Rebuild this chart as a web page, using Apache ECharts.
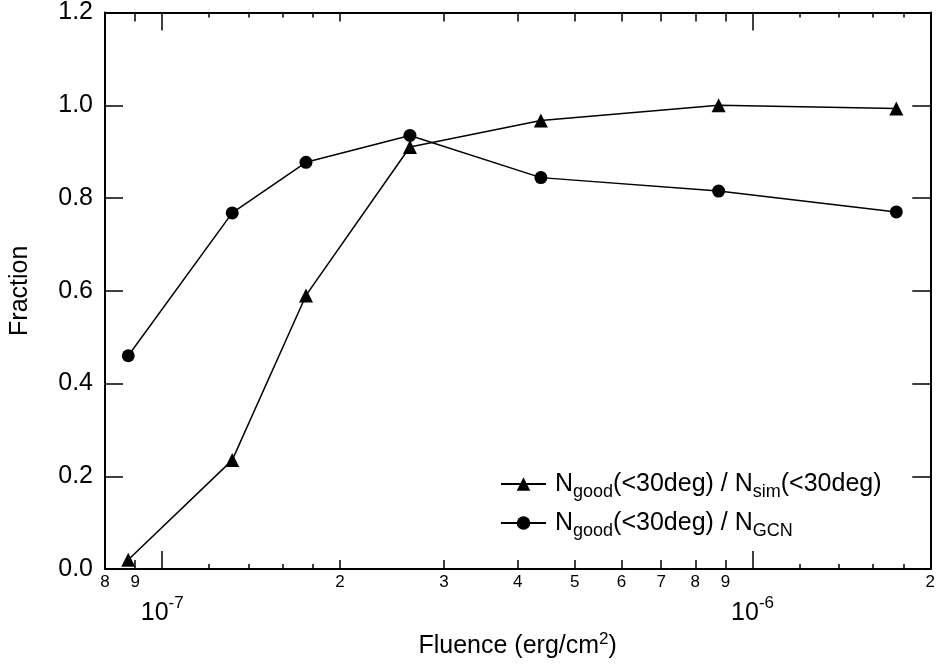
<!DOCTYPE html>
<html>
<head>
<meta charset="utf-8">
<script src="https://cdn.jsdelivr.net/npm/echarts@6/dist/echarts.min.js"></script>
<style>
html,body{margin:0;padding:0;background:#fff;}
#chart{width:938px;height:667px;}
</style>
</head>
<body>
<div id="chart"></div>
<script>
// ---- data ----
var fluence = [8.76e-8, 1.314e-7, 1.752e-7, 2.628e-7, 4.38e-7, 8.76e-7, 1.752e-6];
var fracSim = [0.02, 0.235, 0.59, 0.91, 0.967, 1.0, 0.993];
var fracGCN = [0.46, 0.768, 0.877, 0.935, 0.844, 0.815, 0.770];
var seriesNames = ['Ngood(<30deg) / Nsim(<30deg)', 'Ngood(<30deg) / NGCN'];
var legendRich = ['N{sub|good}(<30deg) / N{sub|sim}(<30deg)', 'N{sub|good}(<30deg) / N{sub|GCN}'];
// tick values
var majorTicks = [1e-7, 1e-6];
var labeledMinorTicks = [8e-8, 9e-8, 2e-7, 3e-7, 4e-7, 5e-7, 6e-7, 7e-7, 8e-7, 9e-7, 2e-6];
var unlabeledMinorTicks = [1.2e-7, 1.4e-7, 1.6e-7, 1.8e-7, 1.2e-6, 1.4e-6, 1.6e-6, 1.8e-6];
var yTicks = [0, 0.2, 0.4, 0.6, 0.8, 1.0, 1.2];

var xMin = 8e-8, xMax = 2e-6;
var FONT = 'Liberation Sans, Arial, sans-serif';

function pair(xs, ys) { return xs.map(function (x, i) { return [x, ys[i]]; }); }

function xAx(pos, ticks, len, lineShow, label) {
  var ax = {
    type: 'log', logBase: 10, min: xMin, max: xMax, position: pos,
    axisLine: { show: lineShow, onZero: false, lineStyle: { color: '#000', width: 2 } },
    axisTick: { show: true, inside: true, length: len, customValues: ticks, lineStyle: { color: '#000', width: 1.5 } },
    axisLabel: { show: false },
    splitLine: { show: false },
    minorTick: { show: false }
  };
  if (label) ax.axisLabel = label;
  return ax;
}

var xAxes = [
  xAx('bottom', majorTicks, 18, true, {
    show: true, customValues: majorTicks, margin: 26,
    formatter: function (v) { return '{b|10}{s|' + Math.round(Math.log10(v)) + '}'; },
    rich: {
      b: { fontFamily: FONT, fontSize: 25, color: '#000', lineHeight: 31, verticalAlign: 'bottom' },
      s: { fontFamily: FONT, fontSize: 17, color: '#000', verticalAlign: 'top', lineHeight: 19 }
    }
  }),
  xAx('bottom', labeledMinorTicks, 9, false, {
    show: true, customValues: labeledMinorTicks, margin: 5,
    fontFamily: FONT, fontSize: 17, color: '#000',
    formatter: function (v) {
      var e = Math.floor(Math.log10(v) + 1e-9);
      return String(Math.round(v / Math.pow(10, e)));
    }
  }),
  xAx('bottom', unlabeledMinorTicks, 5, false),
  xAx('top', majorTicks, 18, true),
  xAx('top', labeledMinorTicks, 9, false),
  xAx('top', unlabeledMinorTicks, 5, false)
];
xAxes[0].name = 'Fluence (erg/cm{sup|2})';
xAxes[0].nameLocation = 'middle';
xAxes[0].nameGap = 61;
xAxes[0].nameTextStyle = {
  fontFamily: FONT, fontSize: 25, color: '#000',
  rich: {
    sup: { fontFamily: FONT, fontSize: 17, color: '#000', verticalAlign: 'top', lineHeight: 19 }
  },
  lineHeight: 31, verticalAlign: 'top'
};

function yAx(pos, showLabel) {
  return {
    type: 'value', min: 0, max: 1.2, interval: 0.2, position: pos,
    axisLine: { show: true, onZero: false, lineStyle: { color: '#000', width: 2 } },
    axisTick: { show: true, inside: true, length: 18, lineStyle: { color: '#000', width: 1.5 } },
    axisLabel: {
      show: showLabel, margin: 12, fontFamily: FONT, fontSize: 25, color: '#000',
      formatter: function (v) { return v.toFixed(1); }
    },
    splitLine: { show: false }
  };
}
var yAxes = [yAx('left', true), yAx('right', false)];
yAxes[0].name = 'Fraction';
yAxes[0].nameLocation = 'middle';
yAxes[0].nameGap = 72;
yAxes[0].nameTextStyle = { fontFamily: FONT, fontSize: 25, color: '#000' };

var chart = echarts.init(document.getElementById('chart'), null, { renderer: 'canvas' });
chart.setOption({
  animation: false,
  backgroundColor: '#fff',
  grid: { left: 104, right: 5, top: 9, bottom: 89, containLabel: false },
  xAxis: xAxes,
  yAxis: yAxes,
  legend: {
    orient: 'vertical', left: 495, top: 462, itemGap: 5, padding: 5,
    itemWidth: 45, itemHeight: 17,
    data: seriesNames,
    formatter: function (name) { return legendRich[seriesNames.indexOf(name)]; },
    textStyle: {
      fontFamily: FONT, fontSize: 25, color: '#000', padding: [0, 0, 0, 4],
      lineHeight: 34, verticalAlign: 'middle',
      rich: {
        sub: { fontFamily: FONT, fontSize: 18, color: '#000', verticalAlign: 'bottom', lineHeight: 34 }
      }
    }
  },
  series: [
    {
      name: seriesNames[0], type: 'line', xAxisIndex: 0, yAxisIndex: 0,
      data: pair(fluence, fracSim),
      symbol: 'triangle', symbolSize: 14, showAllSymbol: true,
      lineStyle: { color: '#000', width: 1.5 },
      itemStyle: { color: '#000', borderWidth: 0 }
    },
    {
      name: seriesNames[1], type: 'line', xAxisIndex: 0, yAxisIndex: 0,
      data: pair(fluence, fracGCN),
      symbol: 'circle', symbolSize: 13, showAllSymbol: true,
      lineStyle: { color: '#000', width: 1.5 },
      itemStyle: { color: '#000', borderWidth: 0 }
    }
  ]
});
</script>
</body>
</html>
